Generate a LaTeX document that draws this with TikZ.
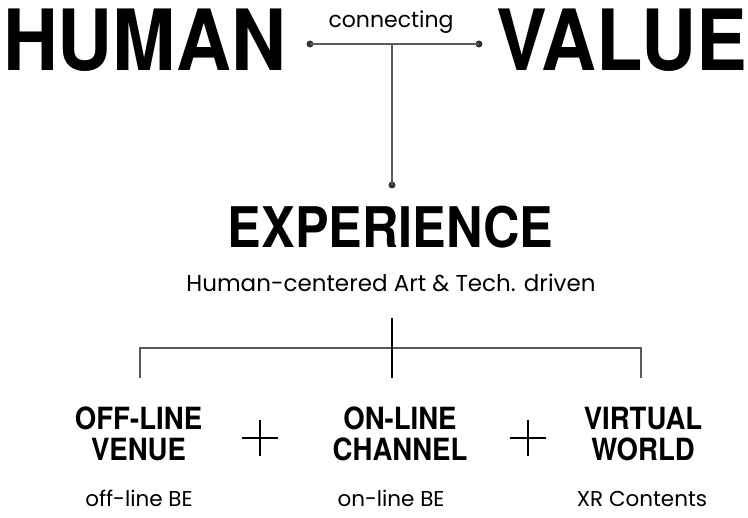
\documentclass[tikz,border=0pt]{standalone}
\usepackage{fontspec}
\usetikzlibrary{calc}
\newfontfamily\hdfont[FakeStretch=0.9]{TeX Gyre Heros}
\newfontfamily\lightfont{Poppins}
\definecolor{linegray}{HTML}{5A5A5A}
\definecolor{dotgray}{HTML}{333333}
\tikzset{
  dotnode/.style={circle,fill=dotgray,inner sep=0pt,minimum size=7pt},
  conn/.style={draw=linegray,line width=1.6pt},
  bracketline/.style={draw=linegray,line width=2pt},
  stemline/.style={draw=black,line width=1.2pt},
  plusline/.style={draw=black,line width=1.1pt},
  bigtitle/.style={inner sep=0pt,anchor=base,font={\hdfont\bfseries\fontsize{84.5}{90}\selectfont}},
  midtitle/.style={inner sep=0pt,anchor=base,font={\hdfont\bfseries\fontsize{56}{60}\selectfont}},
  headtitle/.style={inner sep=0pt,align=center,font={\hdfont\bfseries\fontsize{30.6}{31}\selectfont}},
  smalltext/.style={inner sep=0pt,anchor=base,font={\lightfont\fontsize{21.5}{24}\selectfont}},
  subtext/.style={inner sep=0pt,anchor=base,font={\lightfont\fontsize{23}{26}\selectfont}},
  conntext/.style={inner sep=0pt,anchor=base,font={\lightfont\fontsize{22}{24}\selectfont}},
}
\begin{document}
\begin{tikzpicture}[x=1pt,y=-1pt]
\useasboundingbox (0,0) rectangle (748,518);
% top titles
\node[bigtitle] (human) at (144.5,71) {HUMAN};
\node[bigtitle] (value) at (621.5,71) {VALUE};
\node[conntext] (connecting) at (391,28) {connecting};
% connector
\node[dotnode] (dl) at (310,44) {};
\node[dotnode] (dr) at (479,44) {};
\coordinate (tj) at (392,44);
\node[dotnode] (db) at (392,185) {};
\draw[conn] (dl.center) -- (dr.center);
\draw[conn] (tj) -- (db.center);
% experience
\node[midtitle] (exp) at (390.5,248) {EXPERIENCE};
\node[subtext] (sub) at (391,292) {Human-centered Art \& Tech. driven};
% bracket
\coordinate (stemtop) at (392,318);
\coordinate (stembot) at (392,378);
\coordinate (bl) at (140,348);
\coordinate (br) at (641,348);
\coordinate (bld) at (140,378);
\coordinate (brd) at (641,378);
\draw[bracketline] (bld) -- (bl) -- (br) -- (brd);
\draw[stemline] (stemtop) -- (stembot);
% bottom headers
\node[headtitle] (off) at (138.5,434) {OFF-LINE\\VENUE};
\node[headtitle] (on) at (400,434) {ON-LINE\\CHANNEL};
\node[headtitle] (vw) at (643,434) {VIRTUAL\\WORLD};
\node[smalltext] (offsub) at (139,507) {off-line BE};
\node[smalltext] (onsub) at (391,507) {on-line BE};
\node[smalltext] (vwsub) at (642,507) {XR Contents};
% plus signs
\coordinate (p1) at (260,438);
\coordinate (p2) at (528,438);
\draw[plusline] ($(p1)+(-18,0)$) -- ($(p1)+(18,0)$);
\draw[plusline] ($(p1)+(0,-18)$) -- ($(p1)+(0,18)$);
\draw[plusline] ($(p2)+(-18,0)$) -- ($(p2)+(18,0)$);
\draw[plusline] ($(p2)+(0,-18)$) -- ($(p2)+(0,18)$);
\end{tikzpicture}
\end{document}
